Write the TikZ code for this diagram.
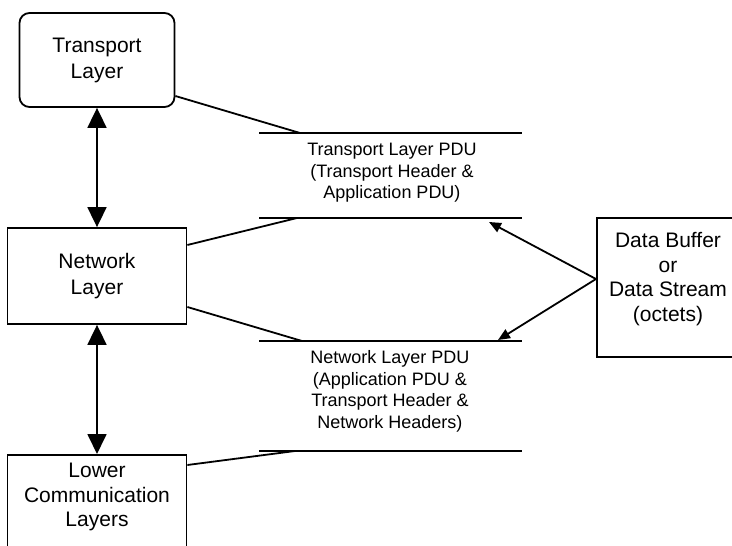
\documentclass[tikz,border=0pt]{standalone}
\usepackage{fontspec}
\setmainfont{Liberation Sans}
\usetikzlibrary{arrows.meta,calc}

\begin{document}
\begin{tikzpicture}[x=1pt,y=-1pt,line width=1.8pt]
  \tikzstyle{layer}=[draw,align=center,font=\fontsize{21}{26}\selectfont,inner sep=0pt]
  \tikzstyle{label}=[align=center,font=\fontsize{21}{24.5}\selectfont]
  \tikzstyle{pdu}=[align=center,font=\fontsize{18}{21.5}\selectfont]
  \tikzstyle{big}=[{Triangle[length=20pt,width=19pt]}-{Triangle[length=20pt,width=19pt]}]
  \tikzstyle{small}=[-{Triangle[length=12pt,width=10pt]}]
  \useasboundingbox (0,0) rectangle (732,546);
  \node[layer,rounded corners=10pt,minimum width=155pt,minimum height=94pt] (transport) at (97,60) {Transport\\Layer};
  \node[layer,minimum width=179pt,minimum height=96pt] (network) at (97,276) {Network\\Layer};
  \node[layer,minimum width=179pt,minimum height=130pt,anchor=north] (lower) at (97,454) {};
  \node[label] (lowertext) at (97,497) {Lower\\Communication\\Layers};
  \node[layer,minimum width=180pt,minimum height=139pt,anchor=west] (data) at (596,287.5) {};
  \node[label] (datatext) at (668,279) {Data Buffer\\or\\Data Stream\\(octets)};
  \foreach \y in {133,218,341,451}
    \draw (259,\y) -- (522,\y);
  \node[pdu] (tpdu) at (392,173) {Transport Layer PDU\\(Transport Header \&\\Application PDU)};
  \node[pdu] (npdu) at (390,391.5) {Network Layer PDU\\(Application PDU \&\\Transport Header \&\\Network Headers)};
  \coordinate (tp1) at (300,133);
  \coordinate (tp2) at (297,218);
  \coordinate (np1) at (302,341);
  \coordinate (np2) at (295,451);
  \coordinate (tin) at (489,222);
  \coordinate (nin) at (498,340);
  \coordinate (ds) at ([yshift=8.5pt]data.west);
  \draw ([yshift=-36pt]transport.east) -- (tp1);
  \draw ([yshift=31pt]network.east) -- (tp2);
  \draw ([yshift=-31pt]network.east) -- (np1);
  \draw ([yshift=-11pt]lower.north east) -- (np2);
  \draw[big] (transport) -- (network);
  \draw[big] (network) -- (lower);
  \draw[small] (ds) -- (tin);
  \draw[small] (ds) -- (nin);
\end{tikzpicture}
\end{document}
